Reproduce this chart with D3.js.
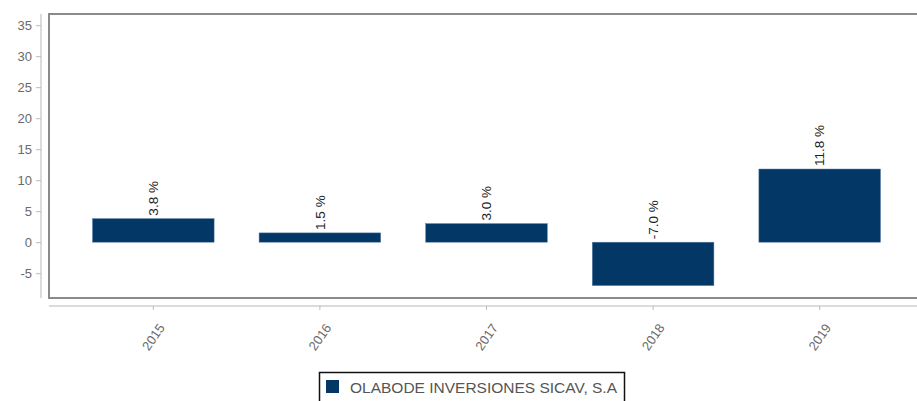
<!DOCTYPE html>
<html><head><meta charset="utf-8">
<script src="https://cdn.jsdelivr.net/npm/d3@7"></script>
<style>body{margin:0;background:#fff;} text{font-family:"Liberation Sans",Arial,sans-serif;}</style>
</head><body>
<svg id="c" width="917" height="401"></svg>
<script>
const categories = ["2015","2016","2017","2018","2019"];
const values = [3.8, 1.5, 3.0, -7.0, 11.8];
const yTicks = [-5,0,5,10,15,20,25,30,35];
const seriesName = "OLABODE INVERSIONES SICAV, S.A";

const svg = d3.select("#c");
const x = d3.scaleBand().domain(categories).range([70, 903]).paddingInner(0.27).paddingOuter(0.135);
const y = d3.scaleLinear().domain([-9, 36.8]).range([298, 14]);

// frame
svg.append("rect").attr("x",49).attr("y",14).attr("width",880).attr("height",284)
  .attr("fill","none").attr("stroke","#8a8a8a").attr("stroke-width",2);

// y axis
const ya = svg.append("g").attr("transform","translate(41,0)")
  .call(d3.axisLeft(y).tickValues(yTicks).tickFormat(d=>String(d)).tickSize(5).tickPadding(4).tickSizeOuter(0));
ya.select(".domain").attr("stroke","#cfcfcf").attr("stroke-width",1.5).attr("d","M0,14V298");
ya.selectAll(".tick line").attr("stroke","#bbb");
ya.selectAll("text").attr("fill","#6a6a6a").style("font-size","13px");

// x axis
const xa = svg.append("g").attr("transform","translate(0,306)")
  .call(d3.axisBottom(x).tickSize(4).tickSizeOuter(0));
xa.select(".domain").attr("stroke","#cfcfcf").attr("stroke-width",1.5).attr("d","M49,0H917");
xa.selectAll(".tick line").attr("stroke","#bbb");
xa.selectAll("text").attr("fill","#6a6a6a").style("font-size","13px")
  .attr("text-anchor","middle").attr("dy","0.35em")
  .attr("transform","translate(0,31) rotate(-55)").attr("x",0).attr("y",0);

// bars
svg.append("g").selectAll("rect").data(categories).join("rect")
  .attr("x",d=>x(d)).attr("width",x.bandwidth())
  .attr("y",(d,i)=>y(Math.max(0,values[i])))
  .attr("height",(d,i)=>Math.abs(y(values[i])-y(0)))
  .attr("fill","#033766").attr("stroke","#5a7fa3").attr("stroke-width",0.5);

// value labels
svg.append("g").selectAll("text").data(categories).join("text")
  .attr("transform",(d,i)=>`translate(${x(d)+x.bandwidth()/2},${y(Math.max(0,values[i]))-3}) rotate(-90)`)
  .attr("dy","0.35em").attr("text-anchor","start")
  .attr("fill","#222").style("font-size","13.5px")
  .text((d,i)=>values[i].toFixed(1)+" %");

// legend
const lg = svg.append("g");
lg.append("rect").attr("x",319.5).attr("y",372.5).attr("width",305).attr("height",40)
  .attr("fill","#fff").attr("stroke","#111").attr("stroke-width",1.5);
lg.append("rect").attr("x",326).attr("y",380).attr("width",13).attr("height",13).attr("fill","#033766");
lg.append("text").attr("x",350).attr("y",393).attr("fill","#555").style("font-size","15px")
  .attr("textLength",267).attr("lengthAdjust","spacingAndGlyphs").text(seriesName);
</script>
</body></html>
